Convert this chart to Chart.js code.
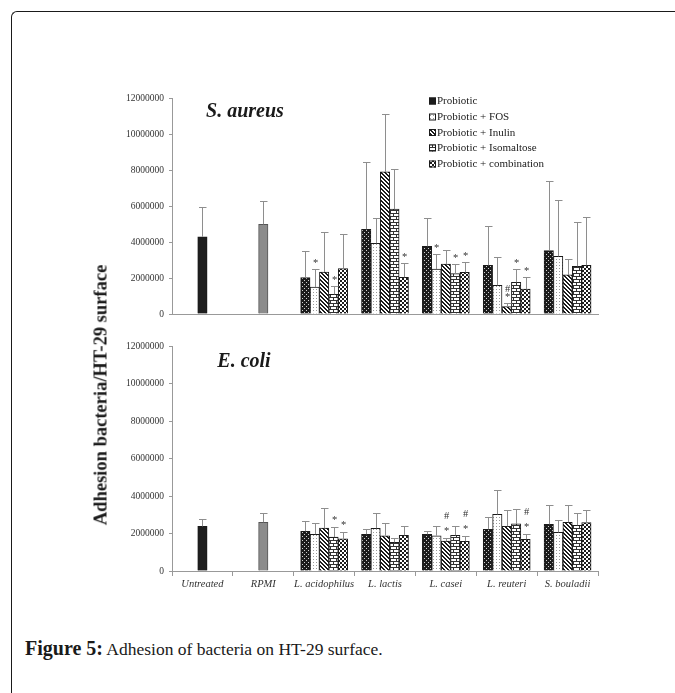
<!DOCTYPE html>
<html><head><meta charset="utf-8">
<script src="https://cdn.jsdelivr.net/npm/chart.js@4.4.1/dist/chart.umd.min.js"></script>
<style>
html,body{margin:0;padding:0;background:#fff;width:675px;height:693px;overflow:hidden;position:relative;}
#frame{position:absolute;left:11px;top:11px;width:680px;height:700px;border-top:1.5px solid #1a1a1a;border-left:1.5px solid #1a1a1a;border-top-left-radius:6px;box-sizing:border-box;}
canvas{position:absolute;left:0;}
#c1{top:0;} #c2{top:330px;}
.ttl{position:absolute;font-family:'Liberation Serif',serif;font-weight:bold;font-style:italic;font-size:20px;color:#1a1a1a;transform:translate(-50%,-50%);white-space:nowrap;}
#ylab{position:absolute;left:101px;top:395px;transform:translate(-50%,-50%) rotate(-90deg);font-family:'Liberation Serif',serif;font-weight:bold;font-size:18.5px;color:#1a1a1a;white-space:nowrap;}
#cap{position:absolute;left:25px;top:636px;font-family:'Liberation Serif',serif;font-size:17.5px;color:#1a1a1a;white-space:nowrap;line-height:24px;}
#cap b{font-size:20px;}
</style></head>
<body>
<div id="frame"></div>
<canvas id="c1" width="675" height="330"></canvas>
<canvas id="c2" width="675" height="280"></canvas>
<div class="ttl" id="t1" style="left:245px;top:110px;"></div>
<div class="ttl" id="t2" style="left:244px;top:360px;"></div>
<div id="ylab">Adhesion bacteria/HT-29 surface</div>
<div id="cap"><b>Figure 5:</b> Adhesion of bacteria on HT-29 surface.</div>
<script>
const categories = ['Untreated','RPMI','L. acidophilus','L. lactis','L. casei','L. reuteri','S. bouladii'];
const controlNames = ['Untreated','RPMI'];
const seriesNames = ['Probiotic','Probiotic + FOS','Probiotic + Inulin','Probiotic + Isomaltose','Probiotic + combination'];
const yTickValues = [0,2000000,4000000,6000000,8000000,10000000,12000000];
const chartTitles = ['S. aureus','E. coli'];

// ---- S. aureus (top) ----
const aureusControl   = [4290000, 4980000];
const aureusControlSD = [1670000, 1300000];
const aureusProbiotic = [2020000, 4700000, 3760000, 2700000, 3520000];
const aureusFOS       = [1500000, 3930000, 2500000, 1590000, 3200000];
const aureusInulin    = [2330000, 7900000, 2780000,  410000, 2170000];
const aureusIsomalt   = [1090000, 5830000, 2240000, 1760000, 2650000];
const aureusCombo     = [2520000, 2040000, 2310000, 1390000, 2700000];
const aureusProbioticSD = [1500000, 3730000, 1550000, 2170000, 3850000];
const aureusFOSSD       = [ 980000, 1380000,  820000, 1560000, 3110000];
const aureusInulinSD    = [2240000, 3190000,  760000,  180000,  890000];
const aureusIsomaltSD   = [ 450000, 2210000,  520000,  720000, 2480000];
const aureusComboSD     = [1920000,  790000,  560000,  680000, 2710000];
const aureusNotes = [
  ['', '', '', '', ''],
  ['*', '', '*', '', ''],
  ['', '', '', '#*', ''],
  ['*', '', '*', '*', ''],
  ['', '*', '*', '*', '']
];

// ---- E. coli (bottom) ----
const coliControl   = [2380000, 2600000];
const coliControlSD = [ 370000,  510000];
const coliProbiotic = [2120000, 1960000, 1960000, 2220000, 2490000];
const coliFOS       = [1960000, 2280000, 1880000, 3020000, 2060000];
const coliInulin    = [2290000, 1880000, 1600000, 2380000, 2600000];
const coliIsomalt   = [1810000, 1530000, 1900000, 2510000, 2440000];
const coliCombo     = [1710000, 1900000, 1580000, 1690000, 2580000];
const coliProbioticSD = [530000, 260000, 160000,  640000, 1050000];
const coliFOSSD       = [580000, 800000, 520000, 1280000,  640000];
const coliInulinSD    = [1050000, 700000, 140000, 860000,  940000];
const coliIsomaltSD   = [520000, 210000, 480000,  780000,  670000];
const coliComboSD     = [390000, 500000, 270000,  270000,  660000];
const coliNotes = [
  ['', '', '', '', ''],
  ['', '', '', '', ''],
  ['', '', '#*', '', ''],
  ['*', '', '', '', ''],
  ['*', '', '#*', '#*', '']
];

document.getElementById('t1').textContent = chartTitles[0];
document.getElementById('t2').textContent = chartTitles[1];

function makePattern(type){
  const c = document.createElement('canvas');
  let ctx;
  if (type === 'dots'){
    c.width = 4; c.height = 4; ctx = c.getContext('2d');
    ctx.fillStyle = '#1c1c1c'; ctx.fillRect(0,0,4,4);
    ctx.fillStyle = '#d0d0d0'; ctx.fillRect(0,0,1,1); ctx.fillRect(2,2,1,1);
  } else if (type === 'fine'){
    c.width = 3; c.height = 3; ctx = c.getContext('2d');
    ctx.fillStyle = '#fff'; ctx.fillRect(0,0,3,3);
    ctx.fillStyle = '#9a9a9a'; ctx.fillRect(1,1,1,1);
  } else if (type === 'diag'){
    c.width = 4; c.height = 4; ctx = c.getContext('2d');
    ctx.fillStyle = '#fff'; ctx.fillRect(0,0,4,4);
    ctx.fillStyle = '#1c1c1c';
    for (let i=0;i<4;i++){ ctx.fillRect(i,i,1,1); ctx.fillRect((i+1)%4,i,1,1); }
  } else if (type === 'brick'){
    c.width = 6; c.height = 6; ctx = c.getContext('2d');
    ctx.fillStyle = '#fff'; ctx.fillRect(0,0,6,6);
    ctx.fillStyle = '#333';
    ctx.fillRect(0,0,6,1); ctx.fillRect(0,3,6,1);
    ctx.fillRect(0,1,1,2); ctx.fillRect(3,4,1,2);
  } else if (type === 'cross'){
    c.width = 4; c.height = 4; ctx = c.getContext('2d');
    ctx.fillStyle = '#fff'; ctx.fillRect(0,0,4,4);
    ctx.fillStyle = '#1c1c1c';
    ctx.fillRect(0,0,2,2); ctx.fillRect(2,2,2,2);
  }
  return c;
}
const patternTypes = ['dots','fine','diag','brick','cross'];

function buildChart(canvasId, control, controlSD, series, seriesSD, notes, cfg){
  const canvas = document.getElementById(canvasId);
  const ctx = canvas.getContext('2d');
  const pats = patternTypes.map(t => ctx.createPattern(makePattern(t), 'repeat'));
  const nCtl = control.length;
  const datasets = [{
    label: 'control',
    data: categories.map((c,i) => i < nCtl ? control[i] : null),
    backgroundColor: ['#1e1e1e','#8c8c8c'],
    borderColor: ['#1a1a1a','#555'],
    sd: categories.map((c,i) => i < nCtl ? controlSD[i] : null),
    notes: categories.map(() => '')
  }];
  series.forEach((vals, s) => {
    datasets.push({
      label: seriesNames[s],
      data: categories.map((c,i) => i < nCtl ? null : vals[i-nCtl]),
      backgroundColor: pats[s],
      borderColor: '#1a1a1a',
      sd: categories.map((c,i) => i < nCtl ? null : seriesSD[s][i-nCtl]),
      notes: categories.map((c,i) => i < nCtl ? '' : notes[s][i-nCtl])
    });
  });

  const errPlugin = {
    id: 'errbars',
    afterDatasetsDraw(chart){
      const c = chart.ctx, ys = chart.scales.y;
      chart.data.datasets.forEach((ds, di) => {
        const meta = chart.getDatasetMeta(di);
        meta.data.forEach((el, j) => {
          const v = ds.data[j];
          if (v === null || v === undefined) return;
          const top = ys.getPixelForValue(v + ds.sd[j]);
          const x = Math.round(el.x) + 0.5;
          c.save();
          c.strokeStyle = '#8e8e8e'; c.lineWidth = 1;
          c.beginPath();
          c.moveTo(x, el.y); c.lineTo(x, Math.round(top)+0.5);
          c.moveTo(x-3.5, Math.round(top)+0.5); c.lineTo(x+4, Math.round(top)+0.5);
          c.stroke();
          const note = ds.notes[j];
          if (note){
            c.fillStyle = '#333';
            c.textAlign = 'center'; c.textBaseline = 'alphabetic';
            let base = top - cfg.starGap;
            for (let k = note.length-1; k >= 0; k--){
              const ch = note[k];
              c.font = '10.5px "Liberation Serif", serif';
              c.fillText(ch, x, base);
              base -= cfg.hashGap;
            }
          }
          c.restore();
        });
      });
    }
  };

  const legendPlugin = {
    id: 'patlegend',
    afterDraw(chart){
      if (!cfg.legend) return;
      const c = chart.ctx;
      const rowsY = [101, 117, 132.5, 148, 164];
      c.save();
      chart.data.datasets.slice(1).forEach((ds, i) => {
        const y = rowsY[i];
        c.fillStyle = i === 0 ? '#1c1c1c' : ds.backgroundColor;
        c.fillRect(429, y-3.5, 7, 7);
        c.strokeStyle = '#1a1a1a'; c.lineWidth = 1;
        c.strokeRect(429.5, y-3, 6, 6);
        c.fillStyle = '#1a1a1a';
        c.font = '11px "Liberation Serif", serif';
        c.textAlign = 'left'; c.textBaseline = 'middle';
        c.fillText(ds.label, 437, y+0.5);
      });
      c.restore();
    }
  };

  return new Chart(ctx, {
    type: 'bar',
    data: { labels: categories, datasets },
    options: {
      responsive: false,
      animation: false,
      devicePixelRatio: 1,
      layout: { padding: { left: 0, right: 77, top: cfg.padTop, bottom: 0 } },
      datasets: { bar: { barThickness: 9.4, skipNull: true, borderWidth: 1, borderSkipped: 'bottom' } },
      plugins: { legend: { display: false }, tooltip: { enabled: false } },
      scales: {
        x: {
          type: 'category',
          offset: true,
          grid: { display: cfg.xTicks, offset: true, drawOnChartArea: false, tickLength: 5, color: '#999' },
          border: { display: true, color: '#999', width: 1 },
          ticks: { display: cfg.xTicks, padding: 2, color: '#333', maxRotation: 0, autoSkip: false,
                   font: { family: '"Liberation Serif", serif', size: 10.5, style: 'italic' } },
          afterFit(s){ s.height = cfg.xHeight; }
        },
        y: {
          min: 0, max: 12000000,
          afterBuildTicks(s){ s.ticks = yTickValues.map(v => ({ value: v })); },
          grid: { display: true, drawOnChartArea: false, tickLength: 3, color: '#999' },
          border: { display: true, color: '#999', width: 1 },
          ticks: { padding: 5, color: '#333', callback: v => String(v),
                   font: { family: '"Liberation Serif", serif', size: 9.5 } },
          afterFit(s){ s.width = 172; }
        }
      }
    },
    plugins: [errPlugin, legendPlugin]
  });
}

buildChart('c1', aureusControl, aureusControlSD,
  [aureusProbiotic, aureusFOS, aureusInulin, aureusIsomalt, aureusCombo],
  [aureusProbioticSD, aureusFOSSD, aureusInulinSD, aureusIsomaltSD, aureusComboSD],
  aureusNotes, { padTop: 98, xHeight: 16, xTicks: false, legend: true, starGap: 3, hashGap: 8 });

buildChart('c2', coliControl, coliControlSD,
  [coliProbiotic, coliFOS, coliInulin, coliIsomalt, coliCombo],
  [coliProbioticSD, coliFOSSD, coliInulinSD, coliIsomaltSD, coliComboSD],
  coliNotes, { padTop: 16, xHeight: 39, xTicks: true, legend: false, starGap: 4, hashGap: 15 });
</script>
</body></html>
